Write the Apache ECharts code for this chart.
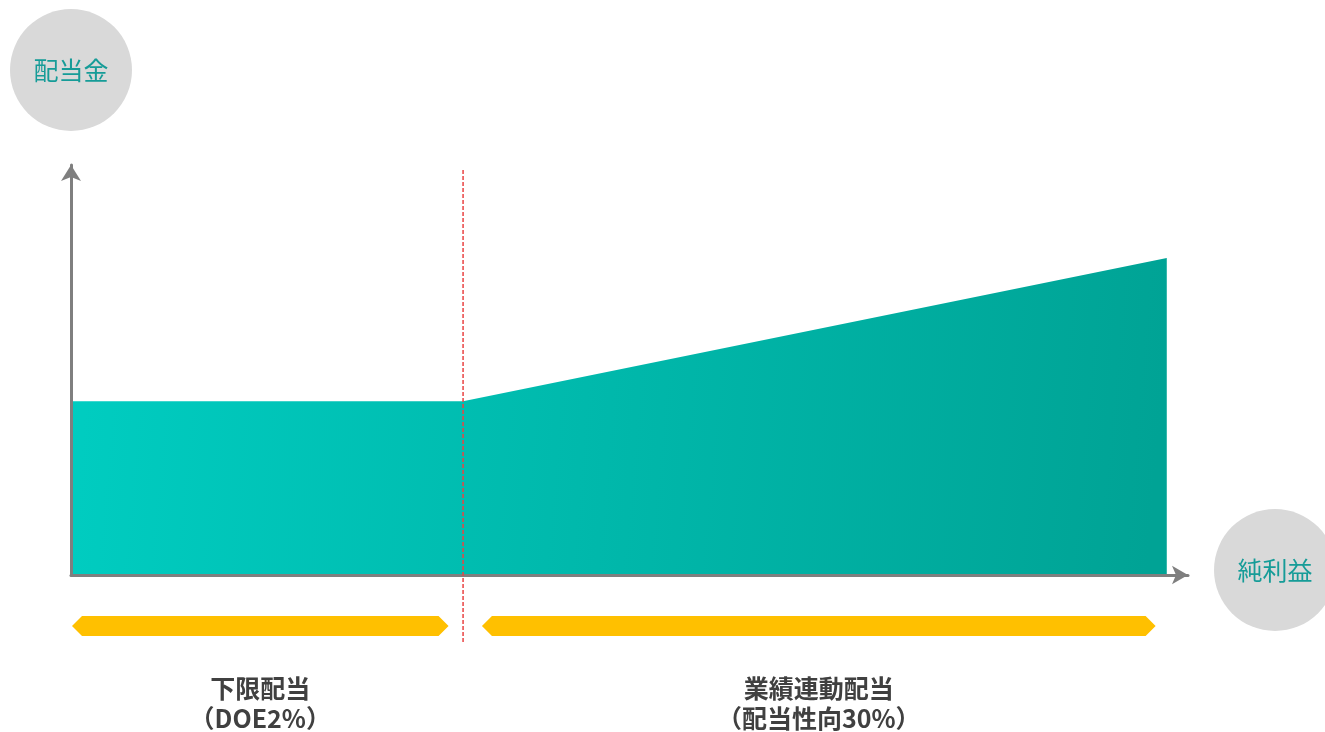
<!DOCTYPE html>
<html>
<head>
<meta charset="utf-8">
<script src="https://cdn.jsdelivr.net/npm/echarts@6/dist/echarts.min.js"></script>
<style>
  html, body { margin: 0; padding: 0; background: #fff; }
  #chart { width: 1325px; height: 732px; }
</style>
</head>
<body>
<div id="chart"></div>
<script>
// 純利益 (x) と 配当金 (y) のイメージ
const netIncome = [0, 35.1, 98.1];
const dividend = [42.4, 42.4, 77.3];
const policyBreak = [35.1];

// 下の矢印帯
const bandStart = [0, 36.7];
const bandEnd = [33.8, 97.1];
const bandLabels = ['下限配当\n（DOE2%）', '業績連動配当\n（配当性向30%）'];

const FONT = '"Noto Sans CJK JP", "Noto Sans", sans-serif';
const AXIS_GRAY = '#7f7f7f';
const TEAL_TEXT = '#169c98';

const chart = echarts.init(document.getElementById('chart'));

const circle = {
  color: TEAL_TEXT,
  fontSize: 25,
  fontFamily: FONT,
  backgroundColor: '#d9d9d9',
  borderRadius: 61,
  width: 75,
  height: 25,
  lineHeight: 25,
  align: 'center',
  padding: [48.5, 23.5]
};

chart.setOption({
  animation: false,
  grid: { left: 71, right: 137, top: 165, bottom: 157, containLabel: false, outerBoundsMode: 'none' },
  xAxis: {
    type: 'value',
    min: 0,
    max: 100,
    z: 5,
    name: '{c|純利益}',
    nameGap: 26,
    nameTextStyle: { align: 'left', padding: [0, 0, 10, 0], rich: { c: circle } },
    axisLine: { lineStyle: { color: AXIS_GRAY, width: 3 }, symbol: ['none', 'arrow'], symbolSize: [14, 16] },
    axisTick: { show: false },
    axisLabel: { show: false },
    splitLine: { show: false }
  },
  yAxis: {
    type: 'value',
    min: 0,
    max: 100,
    z: 5,
    name: '配当金',
    nameGap: 34,
    nameTextStyle: circle,
    axisLine: { show: true, lineStyle: { color: AXIS_GRAY, width: 3 }, symbol: ['none', 'arrow'], symbolSize: [15, 16] },
    axisTick: { show: false },
    axisLabel: { show: false },
    splitLine: { show: false }
  },
  series: [
    {
      type: 'line',
      data: netIncome.map((x, i) => [x, dividend[i]]),
      symbol: 'none',
      lineStyle: { width: 0 },
      areaStyle: {
        opacity: 1,
        color: new echarts.graphic.LinearGradient(0, 0, 1, 0.3, [
          { offset: 0, color: '#00cdc1' },
          { offset: 1, color: '#00a395' }
        ])
      },
      z: 2
    },
    {
      // 区切りの赤い点線
      type: 'custom',
      clip: false,
      z: 6,
      data: policyBreak.map(x => [x]),
      renderItem: (params, api) => {
        const top = api.coord([api.value(0), 100]);
        const base = api.coord([api.value(0), 0]);
        return {
          type: 'line',
          shape: { x1: base[0], y1: top[1] + 5, x2: base[0], y2: base[1] + 67 },
          style: { stroke: '#ea4444', lineWidth: 1.5, lineDash: [4, 2] }
        };
      }
    },
    {
      // 矢印帯とラベル
      type: 'custom',
      clip: false,
      z: 4,
      data: bandStart.map((s, i) => [s, bandEnd[i], i]),
      renderItem: (params, api) => {
        const a = api.coord([api.value(0), 0]);
        const b = api.coord([api.value(1), 0]);
        const x1 = a[0] + 1, x2 = b[0];
        const cy = a[1] + 51, h = 10, c = 10;
        return {
          type: 'group',
          children: [
            {
              type: 'polygon',
              shape: {
                points: [
                  [x1, cy], [x1 + c, cy - h], [x2 - c, cy - h],
                  [x2, cy], [x2 - c, cy + h], [x1 + c, cy + h]
                ]
              },
              style: { fill: '#ffc000' }
            },
            {
              type: 'text',
              style: {
                text: bandLabels[api.value(2)],
                x: (x1 + x2) / 2,
                y: a[1] + 128,
                align: 'center',
                verticalAlign: 'middle',
                fontSize: 25,
                fontWeight: 'bold',
                fontFamily: FONT,
                lineHeight: 30,
                fill: '#404040'
              }
            }
          ]
        };
      }
    }
  ]
});
</script>
</body>
</html>
